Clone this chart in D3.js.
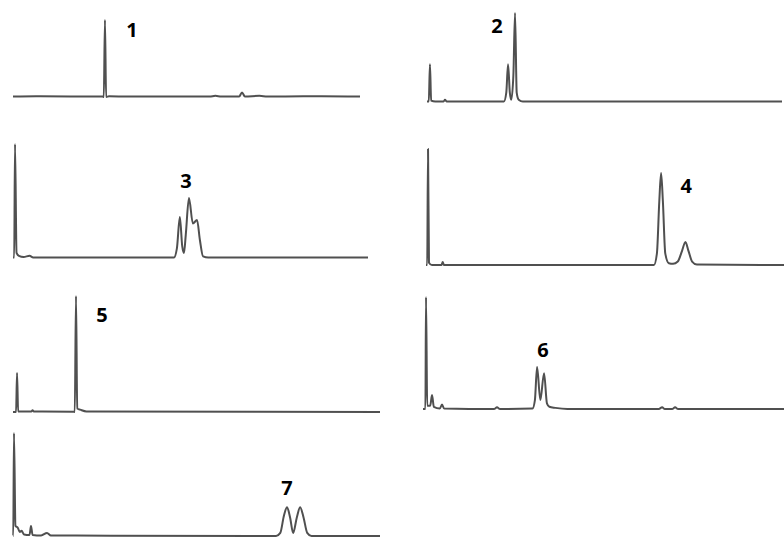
<!DOCTYPE html>
<html>
<head>
<meta charset="utf-8">
<script src="https://cdn.jsdelivr.net/npm/d3@7/dist/d3.min.js"></script>
<style>
  html, body { margin: 0; padding: 0; background: #ffffff; }
  svg { display: block; }
</style>
</head>
<body>
<svg id="chart" width="784" height="540"></svg>
<script>
// Chromatogram traces: [retention time (min), relative intensity (%)]
const trace1 = [[0,0.5],[2,1],[5,0.8],[7.75,0.5],[7.85,0],[7.95,100],[8.05,0],[8.3,1],[10,0.5],[17,0.5],[17.5,1.5],[18,0.5],[19.55,0.5],[19.8,6],[20.05,0.5],[21.3,1.5],[22,0.5],[25.1,1],[26.7,1],[30,0.5]];
const trace2 = [[0,0],[0.15,0],[0.25,42],[0.35,1],[0.7,0],[1.4,0],[1.52,2],[1.65,0],[6.5,0],[6.7,10],[6.85,42],[7.0,10],[7.12,2],[7.3,30],[7.44,100],[7.58,10],[7.75,2],[8.1,0],[30,0]];
const trace3 = [[0,0],[0.1,0],[0.17,100],[0.3,4],[0.5,1.5],[0.9,0.5],[1.4,1.5],[1.7,0],[13.6,0],[13.85,8],[14.1,35.7],[14.3,10],[14.45,4],[14.6,20],[14.87,52.4],[15.2,30],[15.55,33],[15.8,15],[16.06,1],[16.5,0],[30,0]];
const trace4 = [[0,0],[0.1,0],[0.17,100],[0.25,2],[0.5,0],[1.3,0],[1.4,2.5],[1.5,0],[19.1,0],[19.35,10],[19.55,55],[19.7,79.3],[19.85,55],[20.05,10],[20.35,1.5],[20.7,1],[21.1,3],[21.45,12],[21.74,19.8],[22.0,12],[22.3,3],[22.7,0.5],[30,0]];
const trace5 = [[0,0],[0.25,0],[0.33,33.6],[0.42,0.5],[1.5,0.5],[1.6,1.5],[1.7,0.5],[4.95,0.3],[5.05,0],[5.15,100],[5.25,3],[5.5,2],[6.0,0.5],[30,0]];
const trace6 = [[0,0],[0.2,0],[0.25,100],[0.35,3],[0.6,3],[0.75,12.5],[0.9,2],[1.4,0.5],[1.58,4],[1.75,0.5],[5.9,0],[6.15,1.5],[6.4,0],[9.1,0.5],[9.3,8],[9.48,37.5],[9.75,8],[10.06,32],[10.3,5],[10.5,2],[11,1],[12,0],[19.6,0],[19.87,1.5],[20.1,0],[20.7,0],[20.95,1.5],[21.2,0],[30,0]];
const trace7 = [[0,0],[0.02,0],[0.08,100],[0.2,10],[0.4,7.8],[0.55,4],[0.7,5],[0.9,1.5],[1.35,1],[1.47,9.7],[1.6,1],[2.3,0.5],[2.78,3],[3.1,0.5],[8,0.3],[21.5,0],[21.85,3],[22.15,20],[22.4,28],[22.65,18],[22.9,3],[23.2,18],[23.47,28],[23.75,18],[24.05,3],[24.4,0],[30,0]];

// Peak labels: text, [time, intensity] anchor in each panel's data units
const labelText = ["1", "2", "3", "4", "5", "6", "7"];
const labelAt = [[10.29, 78], [5.92, 77.4], [14.62, 61.2], [21.8, 62], [7.28, 77.6], [9.98, 46.4], [22.4, 39.8]];

const timeDomain = [0, 30];
const intensityDomain = [0, 100];

// Panel frames in page pixels: left, right, baseline, top of 100 % signal
const frames = [
  { x0: 13,  x1: 360, yb: 97,    yt: 20 },
  { x0: 427, x1: 782, yb: 101.5, yt: 13 },
  { x0: 13,  x1: 368, yb: 257.5, yt: 144 },
  { x0: 426, x1: 784, yb: 265,   yt: 149 },
  { x0: 13,  x1: 380, yb: 412,   yt: 296 },
  { x0: 423, x1: 784, yb: 409,   yt: 297 },
  { x0: 13,  x1: 380, yb: 536,   yt: 433 }
];

const traces = [trace1, trace2, trace3, trace4, trace5, trace6, trace7];

const svg = d3.select("#chart");

traces.forEach((tr, i) => {
  const f = frames[i];
  const x = d3.scaleLinear().domain(timeDomain).range([f.x0, f.x1]);
  const y = d3.scaleLinear().domain(intensityDomain).range([f.yb, f.yt]);

  const g = svg.append("g").attr("class", "panel");

  const line = d3.line()
    .x(d => x(d[0]))
    .y(d => y(d[1]))
    .curve(d3.curveMonotoneX);

  g.append("path")
    .datum(tr)
    .attr("d", line)
    .attr("fill", "none")
    .attr("stroke", "#505050")
    .attr("stroke-width", 2)
    .attr("stroke-linejoin", "round");

  g.append("text")
    .attr("x", x(labelAt[i][0]))
    .attr("y", y(labelAt[i][1]))
    .attr("text-anchor", "middle")
    .attr("font-family", "'Open Sans', 'Noto Sans', sans-serif")
    .attr("font-weight", 700)
    .attr("font-size", 20)
    .attr("fill", "#000")
    .text(labelText[i]);
});
</script>
</body>
</html>
